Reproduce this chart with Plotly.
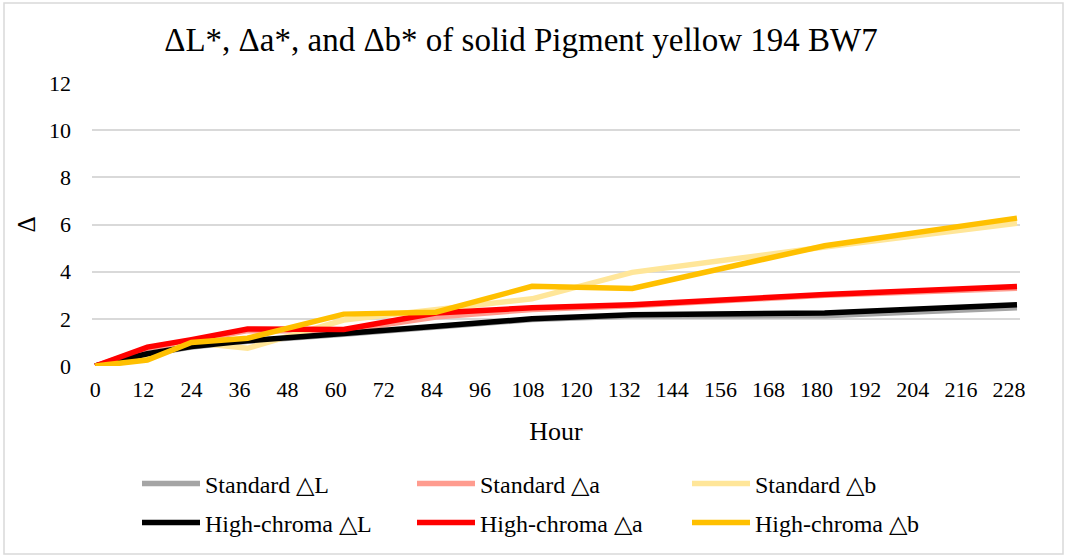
import plotly.graph_objects as go

hours = [0, 13, 24, 38, 62, 85, 109, 134, 182, 230]
std_L = [0, 0.50, 0.80, 1.05, 1.35, 1.65, 1.97, 2.12, 2.13, 2.47]
std_a = [0, 0.75, 1.05, 1.50, 1.50, 2.08, 2.40, 2.55, 3.00, 3.30]
std_b = [0, 0.30, 1.00, 0.75, 1.95, 2.40, 2.85, 3.97, 5.05, 6.05]
hc_L = [0, 0.52, 0.83, 1.07, 1.38, 1.70, 2.00, 2.17, 2.25, 2.60]
hc_a = [0, 0.80, 1.12, 1.57, 1.55, 2.25, 2.47, 2.60, 3.03, 3.37]
hc_b = [0, 0.25, 1.00, 1.18, 2.20, 2.28, 3.38, 3.29, 5.10, 6.27]

tick_vals = list(range(0, 229, 12))
y_ticks = [0, 2, 4, 6, 8, 10, 12]

series = [
    ("Standard \u25b3L", std_L, "#A5A5A5", "legend"),
    ("Standard \u25b3a", std_a, "#FF9C8F", "legend"),
    ("Standard \u25b3b", std_b, "#FFE699", "legend"),
    ("High-chroma \u25b3L", hc_L, "#000000", "legend2"),
    ("High-chroma \u25b3a", hc_a, "#FF0000", "legend2"),
    ("High-chroma \u25b3b", hc_b, "#FFC000", "legend2"),
]

FONT = "Liberation Serif"
W, H = 1066, 557
ML, MR, MT, MB = 92, 46, 83, 191
PW, PH = W - ML - MR, H - MT - MB

fig = go.Figure()
for name, vals, color, lg in series:
    fig.add_trace(go.Scatter(
        x=hours, y=vals, name=name, mode="lines",
        line=dict(color=color, width=5.5, shape="linear"),
        legend=lg, hoverinfo="skip",
    ))

def px_to_paper_x(px):
    return (px - ML) / PW

def px_to_paper_y(py):
    return (H - MB - py) / PH

legend_common = dict(
    orientation="h", font=dict(family=FONT, size=24, color="#000000"),
    bgcolor="rgba(0,0,0,0)", itemwidth=58, entrywidth=202,
    xanchor="left", yanchor="middle", traceorder="normal",
)

fig.update_layout(
    width=W, height=H,
    margin=dict(l=ML, r=MR, t=MT, b=MB),
    paper_bgcolor="#FFFFFF", plot_bgcolor="#FFFFFF",
    font=dict(family=FONT, size=22, color="#000000"),
    title=dict(
        text="\u0394L*, \u0394a*, and \u0394b* of solid Pigment yellow 194 BW7",
        x=521 / W, xanchor="center", y=1 - 39 / H, yanchor="middle",
        font=dict(family=FONT, size=33, color="#000000"),
    ),
    xaxis=dict(
        range=[-0.8, 230.75], tickmode="array", tickvals=tick_vals,
        ticktext=[str(v) for v in tick_vals],
        showgrid=False, zeroline=False, showline=False, ticks="",
        tickfont=dict(family=FONT, size=22), ticklabelstandoff=8,
        title=dict(text="Hour", font=dict(family=FONT, size=26), standoff=20),
    ),
    yaxis=dict(
        range=[0, 12], tickmode="array", tickvals=y_ticks,
        showgrid=True, gridcolor="#D9D9D9", gridwidth=1.5,
        zeroline=False, showline=False, ticks="",
        tickfont=dict(family=FONT, size=22), ticklabelstandoff=20,
        title=dict(text="\u0394", font=dict(family=FONT, size=25), standoff=6),
    ),
    legend=dict(x=px_to_paper_x(137), y=px_to_paper_y(484), **legend_common),
    legend2=dict(x=px_to_paper_x(137), y=px_to_paper_y(523), **legend_common),
    showlegend=True,
)

fig.add_shape(
    type="rect", xref="paper", yref="paper",
    x0=px_to_paper_x(4), x1=px_to_paper_x(1063),
    y0=px_to_paper_y(554), y1=px_to_paper_y(3),
    line=dict(color="#D9D9D9", width=1.5), fillcolor="rgba(0,0,0,0)", layer="below",
)

fig.write_html("out.html", config={"displayModeBar": False},
               post_script="document.body.style.margin='0';")
